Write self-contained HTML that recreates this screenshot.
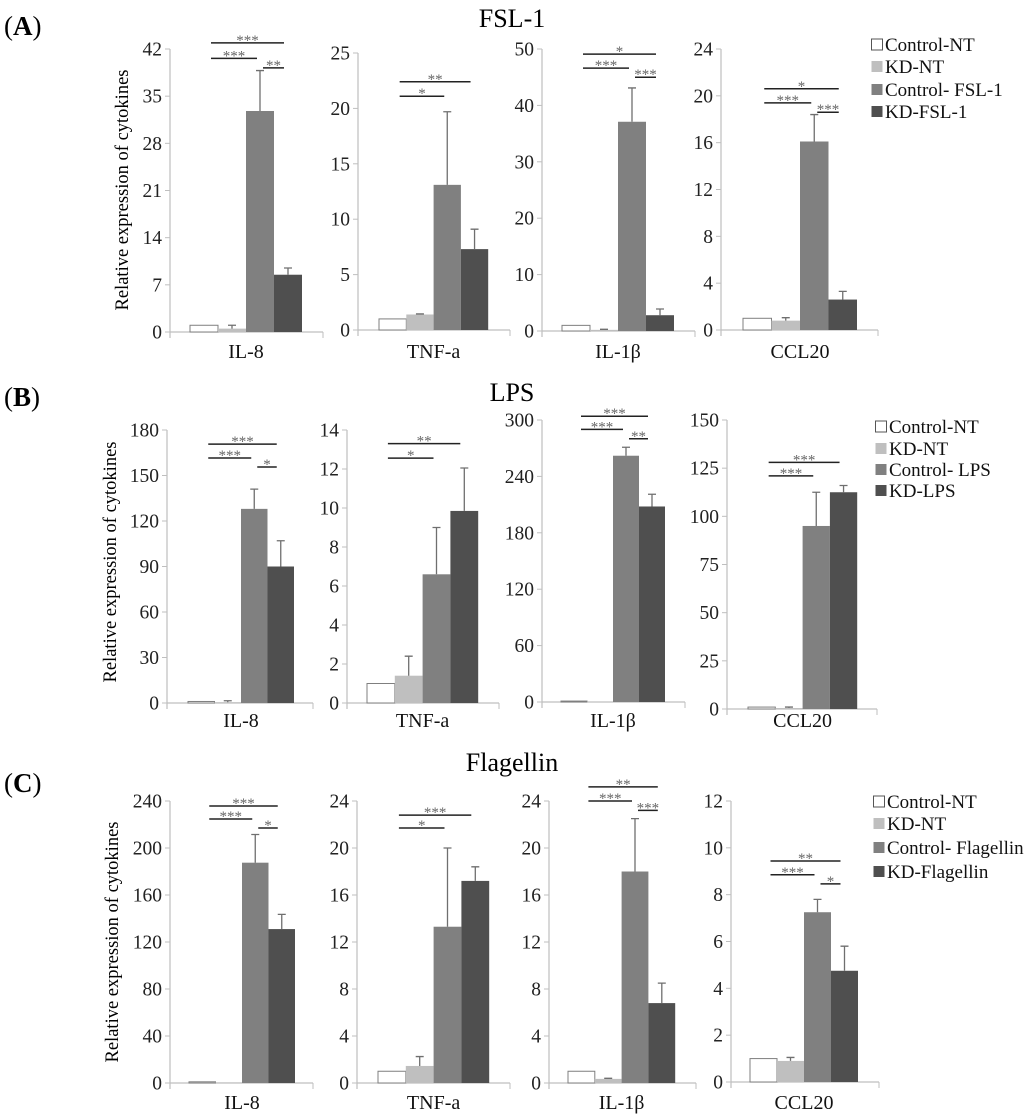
<!DOCTYPE html>
<html><head><meta charset="utf-8"><style>
html,body{margin:0;padding:0;background:#fff}
svg{display:block}
text,tspan{font-family:"Liberation Serif",serif !important}
</style></head><body>
<svg id="fig" width="1024" height="1120" viewBox="0 0 1024 1120" xmlns="http://www.w3.org/2000/svg" font-family="Liberation Serif, serif">
<text x="4" y="35" font-size="27">(<tspan font-weight="bold">A</tspan>)</text>
<text x="4" y="406" font-size="27">(<tspan font-weight="bold">B</tspan>)</text>
<text x="4" y="792" font-size="27">(<tspan font-weight="bold">C</tspan>)</text>
<text x="512" y="27" font-size="26" text-anchor="middle">FSL-1</text>
<text x="512" y="401" font-size="26" text-anchor="middle">LPS</text>
<text x="512" y="771" font-size="26" text-anchor="middle">Flagellin</text>
<text transform="translate(128,190) rotate(-90)" font-size="18.5" text-anchor="middle">Relative expression of cytokines</text>
<text transform="translate(116,562) rotate(-90)" font-size="18.5" text-anchor="middle">Relative expression of cytokines</text>
<text transform="translate(118,942) rotate(-90)" font-size="18.5" text-anchor="middle">Relative expression of cytokines</text>
</svg>
<script>
// ---- data ----
const categories = ["IL-8","TNF-a","IL-1β","CCL20"];
const panelNames = ["fsl1","lps","flagellin"];
const seriesA = ["Control-NT","KD-NT","Control- FSL-1","KD-FSL-1"];
const seriesB = ["Control-NT","KD-NT","Control- LPS","KD-LPS"];
const seriesC = ["Control-NT","KD-NT","Control- Flagellin","KD-Flagellin"];
const valuesA = [[1.0,0.5,32.8,8.5],[1.0,1.4,13.1,7.3],[1.0,0.2,37.1,2.8],[1.0,0.8,16.1,2.6]];
const errorsA = [[0,0.5,6,1],[0,0.05,6.6,1.8],[0,0.1,6,1.1],[0,0.25,2.3,0.7]];
const valuesB = [[1.0,0.5,128,90],[1.0,1.4,6.6,9.85],[1.0,0.3,262,208],[1.0,0.5,95,112.5]];
const errorsB = [[0,1,13,17],[0,1.0,2.4,2.2],[0,0,9,13],[0,0.5,17.5,3.5]];
const valuesC = [[1.0,0.5,187.5,131],[1.0,1.45,13.3,17.2],[1.0,0.35,18,6.8],[1.0,0.9,7.25,4.75]];
const errorsC = [[0,0,24,12.5],[0,0.8,6.7,1.2],[0,0.05,4.5,1.7],[0,0.15,0.55,1.05]];
const axisMaxA = [42,25,50,24], tickStepA = [7,5,10,4];
const axisMaxB = [180,14,300,150], tickStepB = [30,2,60,25];
const axisMaxC = [240,24,24,12], tickStepC = [40,4,4,2];
const sigA = [
 [["long","***",42.9],["left","***",40.6],["right","**",39.2]],
 [["long","**",22.4],["left","*",21.1]],
 [["long","*",49.1],["left","***",46.6],["right","***",45.0]],
 [["long","*",20.6],["left","***",19.4],["right","***",18.6]]];
const sigB = [
 [["long","***",170.7],["left","***",161.5],["right","*",155.6]],
 [["long","**",13.3],["left","*",12.56]],
 [["long","***",304],["left","***",290],["right","**",280]],
 [["long","***",128],["left","***",121]]];
const sigC = [
 [["long","***",235.7],["left","***",224.7],["right","*",217]],
 [["long","***",22.8],["left","*",21.7]],
 [["long","**",25.2],["left","***",24],["right","***",23.2]],
 [["long","**",9.44],["left","***",8.85],["right","*",8.46]]];

// ---- layout (pixels) ----
const layout = [
 {sub:[[170,323,49,332,190,28],[358,510,53,330,379,27.3],[542,695,49,331,562,28],[721,878,49,330,743,28.5]], catY:358, legX:872, legY:[45,67,90,112]},
 {sub:[[167,313,430,703,188,26.5],[347,499,430,703,367,27.8],[542,685,420,702,561,26],[727,877,420,709,748,27.3]], catY:727, legX:876, legY:[427,449,470,491]},
 {sub:[[170,313,801,1083,189,26.5],[357,510,801,1083,378,27.8],[549,696,801,1083,568,26.8],[731,879,801,1082,750,27]], catY:1109, legX:874, legY:[802,824,848,872]}];
const fills = ["#ffffff","#bfbfbf","#808080","#4f4f4f"];
const NS = "http://www.w3.org/2000/svg";
const FONT = "'Liberation Serif', serif";
const svg = document.getElementById("fig");
function mk(tag, attrs, parent){const e=document.createElementNS(NS,tag);for(const k in attrs)e.setAttribute(k,attrs[k]);if(tag==="text"){e.setAttribute("font-family",FONT);e.style.fontFamily=FONT;}(parent||svg).appendChild(e);return e;}

const allVals=[valuesA,valuesB,valuesC], allErr=[errorsA,errorsB,errorsC];
const allMax=[axisMaxA,axisMaxB,axisMaxC], allStep=[tickStepA,tickStepB,tickStepC];
const allSig=[sigA,sigB,sigC], allSeries=[seriesA,seriesB,seriesC];

for(let p=0;p<3;p++){
 const L=layout[p];
 for(let c=0;c<4;c++){
  const [ax,axEnd,yTop,y0,bx,bw]=L.sub[c];
  const max=allMax[p][c], step=allStep[p][c];
  const y=v=>y0-(v/max)*(y0-yTop);
  const g=mk("g",{});
  
  
  const ya=mk("line",{x1:ax,y1:yTop,x2:ax,y2:y0+6,stroke:"#bfbfbf","stroke-width":1.2},g);
  
  
  const xa=mk("line",{x1:ax,y1:y0,x2:axEnd,y2:y0,stroke:"#bfbfbf","stroke-width":1.2},g);
  
  
  mk("line",{x1:axEnd,y1:y0,x2:axEnd,y2:y0+6,stroke:"#bfbfbf"},g);
  for(let t=0;t<=max+1e-9;t+=step){
   mk("line",{x1:ax-5,y1:y(t),x2:ax,y2:y(t),stroke:"#bfbfbf"},g);
   const tl=mk("text",{x:ax-8,y:y(t)+6.5,"font-size":19.5,"text-anchor":"end",fill:"#222"},g);
   tl.textContent=String(Math.round(t*100)/100);
   
   
  }
  const centers=[];
  for(let s=0;s<4;s++){
   const v=allVals[p][c][s], e=allErr[p][c][s];
   const x=bx+s*bw; centers.push(x+bw/2);
   const r=mk("rect",{x:x,y:y(v),width:bw,height:Math.max(0.5,y0-y(v)),fill:fills[s],stroke:s===0?"#7f7f7f":"none","stroke-width":1},g);
   
   
   if(e>0){
    const cx=x+bw/2;
    const el=mk("path",{d:`M${cx},${y(v)}V${y(v+e)}M${cx-4},${y(v+e)}H${cx+4}`,stroke:"#6f6f6f","stroke-width":1.3,fill:"none"},g);
    
    
   }
  }
  const cl=mk("text",{x:(centers[0]+centers[3])/2,y:L.catY,"font-size":20,"text-anchor":"middle",fill:"#111"},g);
  cl.textContent=categories[c];
  
  
  for(const [type,lab,val] of allSig[p][c]){
   let x1,x2;
   if(type==="long"){x1=centers[0]+7;x2=centers[3]-4;}
   else if(type==="left"){x1=centers[0]+7;x2=centers[2]-3;}
   else {x1=centers[2]+3;x2=centers[3]-4;}
   const yy=y(val);
   const sl=mk("line",{x1:x1,y1:yy,x2:x2,y2:yy,stroke:"#222","stroke-width":1.5},g);
   
   
   const st=mk("text",{x:(x1+x2)/2,y:yy+2,"font-size":15,"text-anchor":"middle",fill:"#666"},g);
   st.textContent=lab;
   
   
  }
 }
 for(let s=0;s<4;s++){
  const lg=mk("g",{});
  
  
  const yy=L.legY[s];
  mk("rect",{x:L.legX-0.5,y:yy-6,width:11,height:11,fill:fills[s],stroke:s===0?"#555":"none"},lg);
  const t=mk("text",{x:L.legX+13,y:yy+6,"font-size":19,fill:"#111"},lg);
  t.textContent=allSeries[p][s];
 }
}
</script>
</body></html>
